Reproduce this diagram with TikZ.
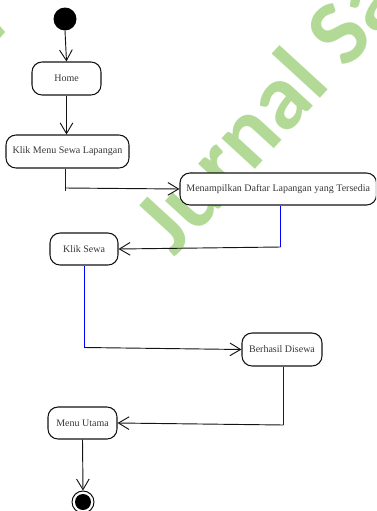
\documentclass[tikz,border=0pt]{standalone}
\usepackage{fontspec}
\setmainfont{Liberation Serif}
\newfontfamily\wmfont{Carlito}
\usetikzlibrary{arrows.meta}
\definecolor{wmgreen}{RGB}{178,218,150}
\definecolor{linkblue}{RGB}{0,0,255}
\definecolor{ink}{RGB}{20,20,20}
\tikzset{
  state/.style={draw=ink, line width=0.8pt, rounded corners=7.5pt, fill=white,
    inner sep=0pt, font=\fontsize{7.5pt}{9pt}\selectfont, text=ink!85},
  flow/.style={draw=ink, line width=0.7pt, -{Straight Barb[length=8pt,width=9.5pt,line width=0.7pt]}},
  bluelink/.style={draw=linkblue, line width=0.75pt},
}
\begin{document}
\begin{tikzpicture}[x=0.75pt,y=-0.75pt]
\useasboundingbox (0,0) rectangle (376,511);
\clip (0,0) rectangle (376,511);
% background watermark
\node[anchor=base west, rotate=47.5, text=wmgreen, inner sep=0pt,
      font=\wmfont\bfseries\fontsize{70pt}{70pt}\selectfont] (wm) at (174,258) {Jurnal Sa};
\fill[wmgreen] (0,26) -- (5,32) -- (0,38) -- cycle;

% start and end
\node[circle, fill=black, minimum size=17.25pt, inner sep=0pt] (start) at (65,19) {};
\node[circle, draw=black, line width=0.7pt, minimum size=16.5pt, inner sep=0pt] (endo) at (83,502) {};
\node[circle, fill=black, minimum size=12pt, inner sep=0pt] (endi) at (83,502) {};

% activities
\node[state, minimum width=51.75pt, minimum height=24.75pt] (home) at (66.5,78.5) {Home};
\node[state, minimum width=92.25pt, minimum height=24.75pt] (kms) at (67.5,151.5) {Klik Menu Sewa Lapangan};
\node[state, minimum width=147.4pt, minimum height=24pt] (mdl) at (278.25,189) {Menampilkan Daftar Lapangan yang Tersedia};
\node[state, minimum width=51pt, minimum height=24pt] (ks) at (84,249) {Klik Sewa};
\node[state, minimum width=60pt, minimum height=24.75pt] (bd) at (282,349.5) {Berhasil Disewa};
\node[state, minimum width=51.75pt, minimum height=24pt] (mu) at (82.5,423) {Menu Utama};

% bends of the routed links
\coordinate (b1) at (65.5,191);
\coordinate (j1) at (65.5,188);
\coordinate (b2) at (280.5,247);
\coordinate (b3) at (84.5,347.5);
\coordinate (b4) at (283.5,425);

% links
\draw[flow] (start.south) -- (home.north);
\draw[flow] (home.south) -- (home.south |- kms.north);

\draw[bluelink] (kms.south -| b1) -- (b1);
\draw[flow] (j1) -- (mdl.west);

\draw[bluelink] (mdl.south -| b2) -- (b2);
\draw[flow] (b2) -- (ks.east);

\draw[bluelink] (ks.south -| b3) -- (b3);
\draw[flow] (b3) -- (bd.west);

\draw[bluelink] (bd.south -| b4) -- (b4);
\draw[flow] (b4) -- (mu.east);

\draw[flow] (mu.south) -- (endo.north);
\end{tikzpicture}
\end{document}
